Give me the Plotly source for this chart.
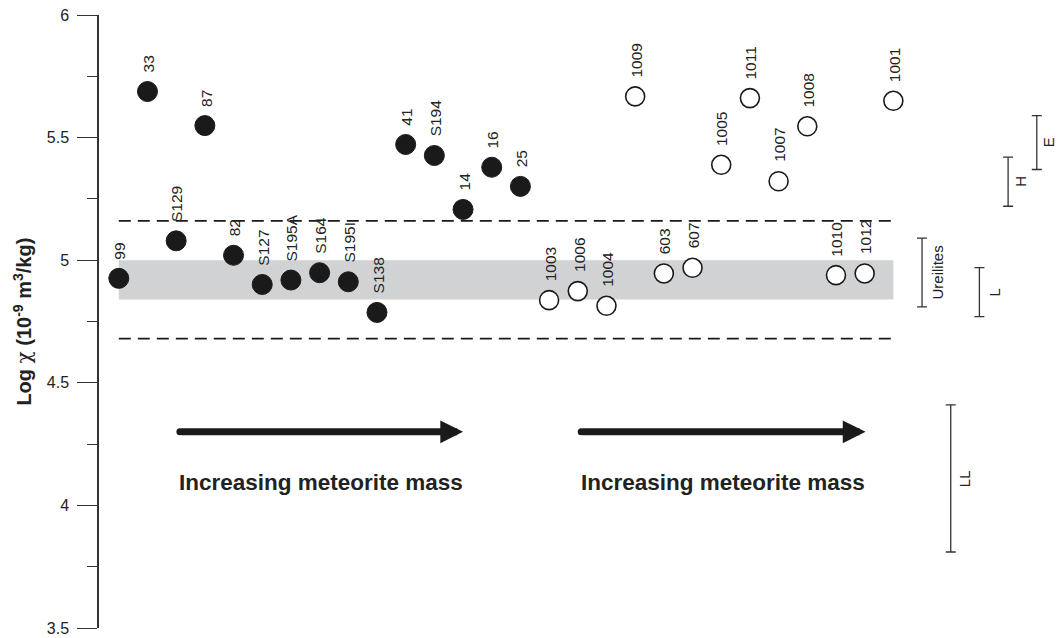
import plotly.graph_objects as go

# ---- data ----
filled_labels = ["99", "33", "S129", "87", "82", "S127", "S195A", "S164", "S195I", "S138",
                 "41", "S194", "14", "16", "25"]
filled_values = [4.926, 5.688, 5.079, 5.549, 5.020, 4.901, 4.919, 4.949, 4.912, 4.787,
                 5.472, 5.427, 5.207, 5.379, 5.301]
open_labels = ["1003", "1006", "1004", "1009", "603", "607", "1005", "1011", "1007", "1008",
               "1010", "1012", "1001"]
open_values = [4.837, 4.874, 4.814, 5.668, 4.946, 4.969, 5.389, 5.661, 5.322, 5.546,
               4.939, 4.946, 5.650]

range_names = ["Ureilites", "LL", "L", "H", "E"]
range_low = [4.81, 3.81, 4.77, 5.22, 5.37]
range_high = [5.09, 4.41, 4.97, 5.42, 5.59]

band_low, band_high = 4.84, 5.00
dash_low, dash_high = 4.68, 5.16

arrow_y = 4.30
arrow_spans = [(2.13, 12.0), (16.12, 26.03)]
arrow_text = "Increasing meteorite mass"
arrow_text_y = 4.093

y_ticks = [3.5, 4, 4.5, 5, 5.5, 6]

# ---- positions ----
filled_x = list(range(len(filled_labels)))
open_x = list(range(len(filled_labels), len(filled_labels) + len(open_labels)))
last_x = open_x[-1]
range_x = [last_x + 1 + i for i in range(len(range_names))]
range_label_shift = [15, 14, 15, 13, 12]

INK = "#1a1a1a"
FONT = "Liberation Sans, Arial, sans-serif"

fig = go.Figure()

# gray band + dashed lines
fig.add_shape(type="rect", x0=filled_x[0], x1=last_x, y0=band_low, y1=band_high,
              fillcolor="#d1d2d4", line_width=0, layer="below")
for yv in (dash_low, dash_high):
    fig.add_shape(type="line", x0=filled_x[0], x1=last_x, y0=yv, y1=yv,
                  line=dict(color=INK, width=1.8, dash="12px,7px"), layer="below")

fig.add_trace(go.Scatter(
    x=filled_x, y=filled_values, mode="markers",
    marker=dict(size=20, color=INK, line=dict(color=INK, width=1)),
    showlegend=False, hoverinfo="skip", cliponaxis=False))
fig.add_trace(go.Scatter(
    x=open_x, y=open_values, mode="markers",
    marker=dict(size=19, color="white", line=dict(color=INK, width=1.6)),
    showlegend=False, hoverinfo="skip", cliponaxis=False))

# range bars on the right
mids = [(lo + hi) / 2 for lo, hi in zip(range_low, range_high)]
fig.add_trace(go.Scatter(
    x=range_x, y=mids, mode="markers", marker=dict(size=1, opacity=0),
    error_y=dict(type="data", symmetric=False,
                 array=[hi - m for hi, m in zip(range_high, mids)],
                 arrayminus=[m - lo for lo, m in zip(range_low, mids)],
                 width=5, thickness=1.3, color="#333333"),
    showlegend=False, hoverinfo="skip", cliponaxis=False))

annotations = []
for xs, ys, labs in ((filled_x, filled_values, filled_labels), (open_x, open_values, open_labels)):
    for xv, yv, lab in zip(xs, ys, labs):
        annotations.append(dict(x=xv, y=yv, text=lab, textangle=-90, showarrow=False,
                                xanchor="center", yanchor="bottom", yshift=17, xshift=1,
                                font=dict(family=FONT, size=15.5, color="#222222")))
for xv, m, name, sh in zip(range_x, mids, range_names, range_label_shift):
    annotations.append(dict(x=xv, y=m, text=name, textangle=-90, showarrow=False,
                            xanchor="center", yanchor="middle", xshift=sh,
                            font=dict(family=FONT, size=15, color="#222222")))
for x0, x1 in arrow_spans:
    annotations.append(dict(x=x1, y=arrow_y, ax=x0, ay=arrow_y, axref="x", ayref="y",
                            xref="x", yref="y", text="", showarrow=True, arrowhead=2,
                            arrowwidth=7, arrowsize=0.65, arrowcolor=INK))
    annotations.append(dict(x=(x0 + x1) / 2, y=arrow_text_y, text="<b>%s</b>" % arrow_text,
                            showarrow=False, xanchor="center", yanchor="middle",
                            font=dict(family=FONT, size=22.5, color="#222222")))
# round cap at arrow start
fig.add_trace(go.Scatter(x=[s[0] for s in arrow_spans], y=[arrow_y] * len(arrow_spans),
                         mode="markers", marker=dict(size=7, color=INK),
                         showlegend=False, hoverinfo="skip"))

title_text = ("<b>Log </b><span style=\"font-family:'DejaVu Serif';font-weight:normal\">χ</span>"
              "<b> (10<sup>-9</sup> m<sup>3</sup>/kg)</b>")
annotations.append(dict(xref="paper", yref="paper", x=-0.0805, y=0.5,
                        text=title_text,
                        textangle=-90, showarrow=False, xanchor="center", yanchor="middle",
                        font=dict(family=FONT, size=20, color="#222222")))

fig.update_layout(
    width=1061, height=638, autosize=False,
    margin=dict(l=99, r=7, t=15, b=10, autoexpand=False),
    plot_bgcolor="white", paper_bgcolor="white",
    annotations=annotations,
    xaxis=dict(range=[-0.69, 32.6], visible=False, showgrid=False, zeroline=False,
               automargin=False),
    yaxis=dict(range=[3.5, 6], tickmode="array", tickvals=y_ticks,
               ticktext=[("%g" % v) for v in y_ticks], automargin=False,
               ticklabeloverflow="allow",
               ticks="outside", ticklen=20, tickwidth=1.3, tickcolor="#333333",
               showline=True, linecolor="#333333", linewidth=1.5,
               showgrid=False, zeroline=False, ticklabelstandoff=5,
               tickfont=dict(family=FONT, size=16, color="#222222"),
               minor=dict(tickmode="linear", tick0=3.5, dtick=0.25, ticks="outside",
                          ticklen=10, tickwidth=1.3, tickcolor="#333333", showgrid=False)),
)

fig.write_html("out.html", config={"displayModeBar": False},
               post_script="document.body.style.margin='0';document.body.style.overflow='hidden';")
